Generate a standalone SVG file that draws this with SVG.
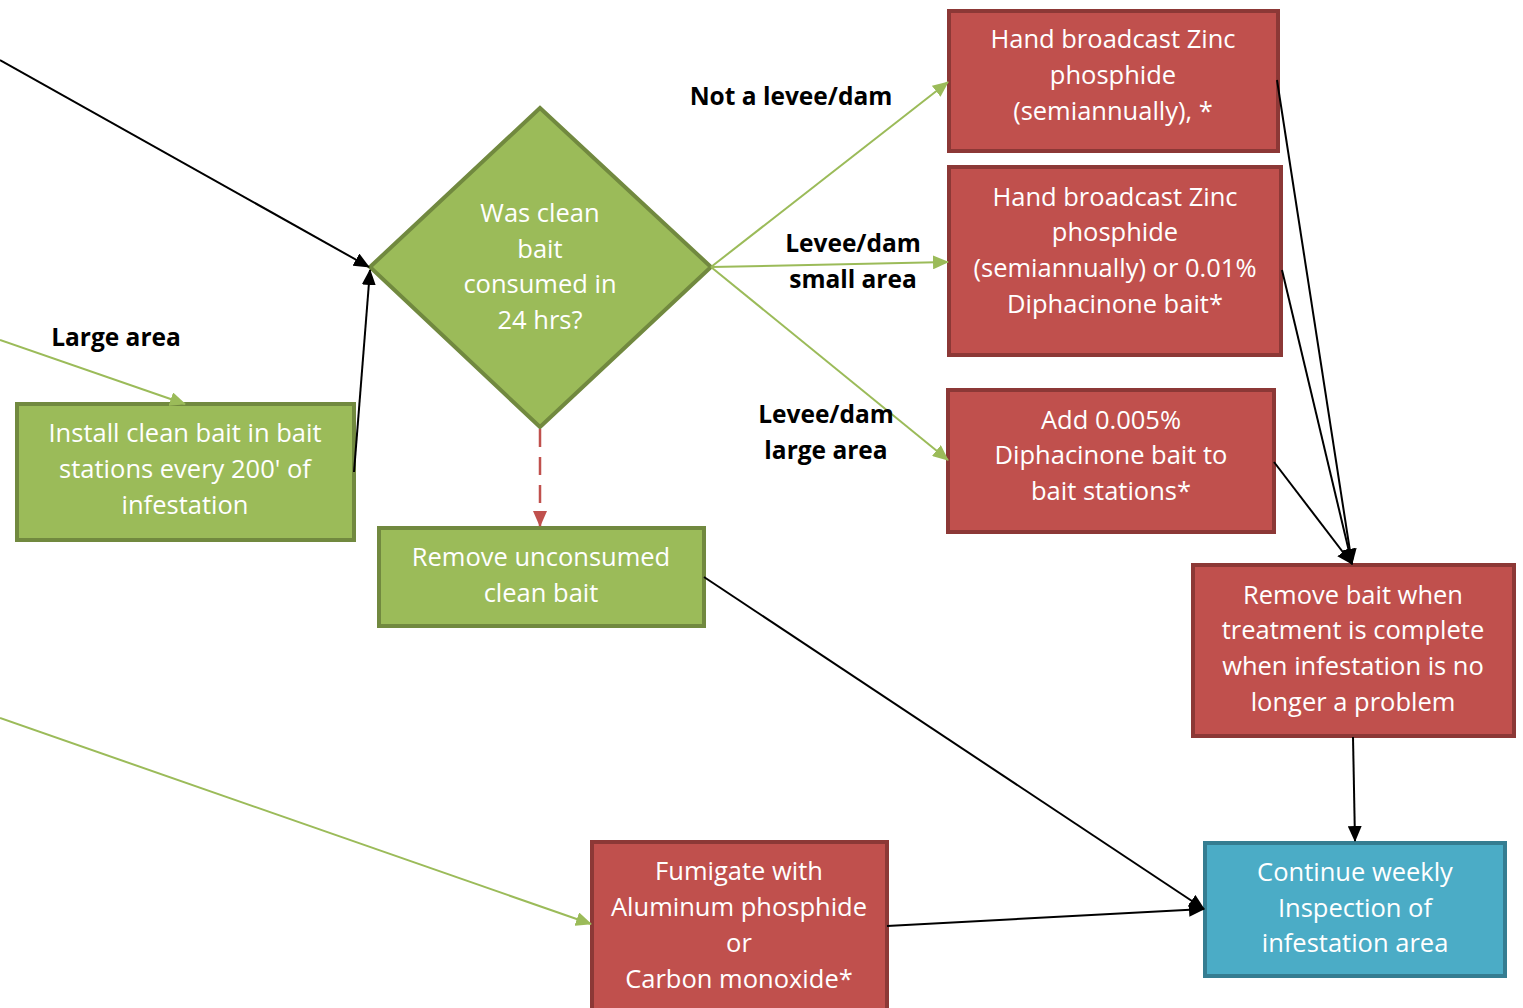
<svg xmlns="http://www.w3.org/2000/svg" width="1523" height="1008" viewBox="0 0 1523 1008">
<style>
.g{fill:#9BBB59;stroke:#71893F;stroke-width:4}
.r{fill:#C0504D;stroke:#8C3836;stroke-width:4}
.b{fill:#4BACC6;stroke:#357D91;stroke-width:4}
.t{font-family:"Open Sans",sans-serif;font-size:25.5px;fill:#fff;text-anchor:middle}
.l{font-family:"Open Sans",sans-serif;font-size:24.5px;font-weight:bold;fill:#000;text-anchor:middle}
.k{stroke:#000;stroke-width:2;fill:none}
.gl{stroke:#9BBB59;stroke-width:2;fill:none}
</style>
<defs>
<marker id="ak" viewBox="0 0 16 14" refX="15" refY="7" markerWidth="16" markerHeight="14" markerUnits="userSpaceOnUse" orient="auto"><path d="M0,0L16,7L0,14z" fill="#000"/></marker>
<marker id="ag" viewBox="0 0 16 14" refX="15" refY="7" markerWidth="16" markerHeight="14" markerUnits="userSpaceOnUse" orient="auto"><path d="M0,0L16,7L0,14z" fill="#9BBB59"/></marker>
<marker id="ar" viewBox="0 0 16 14" refX="15" refY="7" markerWidth="16" markerHeight="14" markerUnits="userSpaceOnUse" orient="auto"><path d="M0,0L16,7L0,14z" fill="#C0504D"/></marker>
</defs>
<g id="install">
<rect class="g" x="17" y="404" width="337" height="136"/>
<text class="t" x="185" y="442">Install clean bait in bait</text>
<text class="t" x="185" y="478">stations every 200' of</text>
<text class="t" x="185" y="514">infestation</text>
</g>
<g id="decision">
<polygon class="g" points="540,108 711,267 540,427 370,267"/>
<text class="t" x="540" y="222">Was clean</text>
<text class="t" x="540" y="258">bait</text>
<text class="t" x="540" y="293">consumed in</text>
<text class="t" x="540" y="329">24 hrs?</text>
</g>
<g id="remove-unconsumed">
<rect class="g" x="379" y="528" width="325" height="98"/>
<text class="t" x="541" y="566">Remove unconsumed</text>
<text class="t" x="541" y="602">clean bait</text>
</g>
<g id="hand1">
<rect class="r" x="949" y="11" width="329" height="140"/>
<text class="t" x="1113" y="48">Hand broadcast Zinc</text>
<text class="t" x="1113" y="84">phosphide</text>
<text class="t" x="1113" y="120">(semiannually), *</text>
</g>
<g id="hand2">
<rect class="r" x="949" y="167" width="332" height="188"/>
<text class="t" x="1115" y="206">Hand broadcast Zinc</text>
<text class="t" x="1115" y="241">phosphide</text>
<text class="t" x="1115" y="277">(semiannually) or 0.01%</text>
<text class="t" x="1115" y="313">Diphacinone bait*</text>
</g>
<g id="add">
<rect class="r" x="948" y="390" width="326" height="142"/>
<text class="t" x="1111" y="429">Add 0.005%</text>
<text class="t" x="1111" y="464">Diphacinone bait to</text>
<text class="t" x="1111" y="500">bait stations*</text>
</g>
<g id="remove-bait">
<rect class="r" x="1193" y="565" width="321" height="171"/>
<text class="t" x="1353" y="604">Remove bait when</text>
<text class="t" x="1353" y="639">treatment is complete</text>
<text class="t" x="1353" y="675">when infestation is no</text>
<text class="t" x="1353" y="711">longer a problem</text>
</g>
<g id="continue">
<rect class="b" x="1205" y="843" width="300" height="133"/>
<text class="t" x="1355" y="881">Continue weekly</text>
<text class="t" x="1355" y="917">Inspection of</text>
<text class="t" x="1355" y="952">infestation area</text>
</g>
<g id="fumigate">
<rect class="r" x="592" y="842" width="295" height="170"/>
<text class="t" x="739" y="880">Fumigate with</text>
<text class="t" x="739" y="916">Aluminum phosphide</text>
<text class="t" x="739" y="952">or</text>
<text class="t" x="739" y="988">Carbon monoxide*</text>
</g>
<g id="connectors">
<line class="k" x1="0" y1="60" x2="369" y2="267" marker-end="url(#ak)"/>
<line class="k" x1="354" y1="472" x2="370" y2="270" marker-end="url(#ak)"/>
<line class="gl" x1="0" y1="340" x2="185" y2="404" marker-end="url(#ag)"/>
<line x1="540" y1="429" x2="540" y2="526" stroke="#C0504D" stroke-width="2.5" stroke-dasharray="18,10" marker-end="url(#ar)"/>
<line class="gl" x1="711" y1="267" x2="948" y2="82" marker-end="url(#ag)"/>
<line class="gl" x1="711" y1="267" x2="948" y2="262" marker-end="url(#ag)"/>
<line class="gl" x1="711" y1="267" x2="948" y2="460" marker-end="url(#ag)"/>
<line class="k" x1="1277" y1="80" x2="1352" y2="564" marker-end="url(#ak)"/>
<line class="k" x1="1282" y1="270" x2="1352" y2="564" marker-end="url(#ak)"/>
<line class="k" x1="1274" y1="462" x2="1352" y2="564" marker-end="url(#ak)"/>
<line class="k" x1="1353" y1="737" x2="1355" y2="841" marker-end="url(#ak)"/>
<line class="k" x1="704" y1="577" x2="1204" y2="909" marker-end="url(#ak)"/>
<line class="k" x1="887" y1="926" x2="1204" y2="909" marker-end="url(#ak)"/>
<line class="gl" x1="0" y1="718" x2="591" y2="924" marker-end="url(#ag)"/>
<text class="l" x="791" y="105">Not a levee/dam</text>
<text class="l" x="853" y="252">Levee/dam</text>
<text class="l" x="853" y="288">small area</text>
<text class="l" x="826" y="423">Levee/dam</text>
<text class="l" x="826" y="459">large area</text>
<text class="l" x="116" y="346">Large area</text>
</g>
</svg>
